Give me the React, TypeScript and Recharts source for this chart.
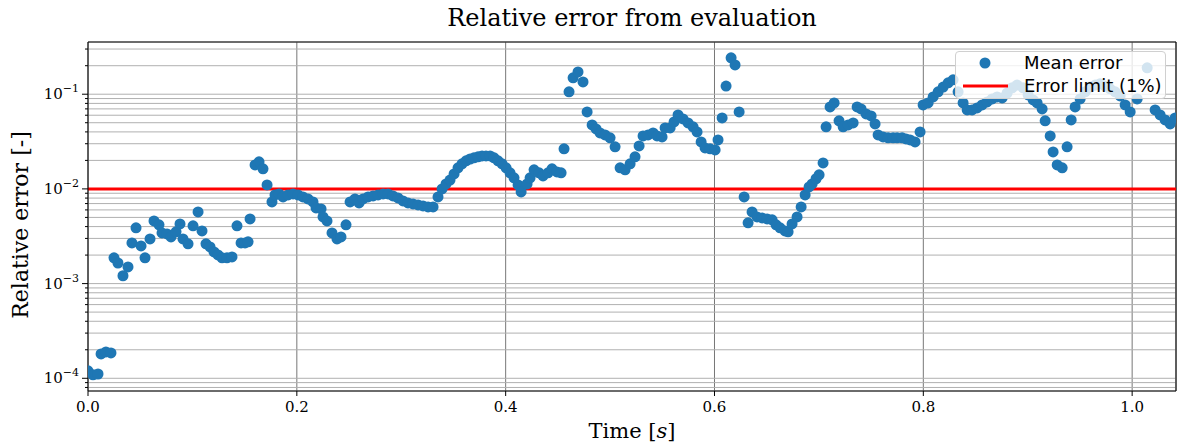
import React from 'react'
import {
  ScatterChart,
  Scatter,
  XAxis,
  YAxis,
  CartesianGrid,
  ReferenceLine,
  Legend,
} from 'recharts'

// time stamps [s] of the evaluation samples
const TIME = [
  0, 0.0048, 0.0096, 0.0125, 0.0172, 0.022, 0.0249, 0.0287, 0.0335, 0.0383,
  0.0421, 0.046, 0.0508, 0.0546, 0.0594, 0.0632, 0.068, 0.0709, 0.0757, 0.0795,
  0.0843, 0.0881, 0.091, 0.0958, 0.1006, 0.1054, 0.1092, 0.113, 0.1169, 0.1207,
  0.1245, 0.1284, 0.1331, 0.1379, 0.1427, 0.1466, 0.1504, 0.1533, 0.1552, 0.16,
  0.1638, 0.1676, 0.1715, 0.1762, 0.1791, 0.183, 0.1868, 0.1916, 0.1964, 0.2011,
  0.2059, 0.2107, 0.2155, 0.2184, 0.2232, 0.2251, 0.2289, 0.2337, 0.2385, 0.2423,
  0.2471, 0.251, 0.2557, 0.2596, 0.2634, 0.2682, 0.273, 0.2778, 0.2826, 0.2874,
  0.2921, 0.2969, 0.3017, 0.3065, 0.3113, 0.3161, 0.3209, 0.3257, 0.3305, 0.3352,
  0.3391, 0.3429, 0.3467, 0.3506, 0.3544, 0.3582, 0.3621, 0.3659, 0.3697, 0.3736,
  0.3774, 0.3812, 0.3851, 0.3889, 0.3927, 0.3966, 0.4004, 0.4042, 0.408, 0.4119,
  0.4148, 0.4205, 0.4234, 0.4272, 0.432, 0.4358, 0.4406, 0.4444, 0.4492, 0.4531,
  0.4559, 0.4607, 0.4646, 0.4693, 0.4741, 0.478, 0.4828, 0.4866, 0.4904, 0.4952,
  0.5, 0.5048, 0.5096, 0.5144, 0.5192, 0.5239, 0.5278, 0.5316, 0.5364, 0.5412,
  0.545, 0.5498, 0.5527, 0.5575, 0.5613, 0.5651, 0.5699, 0.5747, 0.5795, 0.5833,
  0.5872, 0.591, 0.5958, 0.6006, 0.6034, 0.6073, 0.6111, 0.6159, 0.6197, 0.6236,
  0.6284, 0.6322, 0.636, 0.6408, 0.6456, 0.6504, 0.6552, 0.659, 0.6628, 0.6676,
  0.6705, 0.6743, 0.6791, 0.683, 0.6868, 0.6906, 0.6935, 0.6973, 0.7002, 0.704,
  0.7069, 0.7107, 0.7146, 0.7193, 0.7232, 0.728, 0.7328, 0.7366, 0.7404, 0.7452,
  0.75, 0.7538, 0.7567, 0.7615, 0.7663, 0.7711, 0.7749, 0.7797, 0.7835, 0.7874,
  0.7921, 0.7969, 0.7998, 0.8046, 0.8094, 0.8142, 0.819, 0.8238, 0.8285, 0.8333,
  0.8381, 0.842, 0.8467, 0.8515, 0.8563, 0.8611, 0.8659, 0.8707, 0.8755, 0.8803,
  0.8851, 0.8898, 0.8956, 0.9004, 0.9052, 0.909, 0.9138, 0.9167, 0.9215, 0.9243,
  0.9282, 0.933, 0.9377, 0.9416, 0.9454, 0.9502, 0.955, 0.9598, 0.9646, 0.9693,
  0.9741, 0.9789, 0.9837, 0.9885, 0.9933, 0.9981, 1.0048, 1.0144, 1.022, 1.0268,
  1.0316, 1.0364, 1.0412,
]

// mean relative error at each time stamp [-]
const MEAN_ERROR = [
  1.2e-4, 1.09e-4, 1.11e-4, 1.81e-4, 1.9e-4, 1.85e-4, 1.87e-3, 1.65e-3, 1.21e-3, 1.5e-3,
  2.69e-3, 3.88e-3, 2.5e-3, 1.87e-3, 2.96e-3, 4.59e-3, 4.17e-3, 3.43e-3, 3.35e-3, 3.11e-3,
  3.52e-3, 4.27e-3, 2.96e-3, 2.63e-3, 4.07e-3, 5.72e-3, 3.6e-3, 2.63e-3, 2.44e-3, 2.16e-3,
  2.01e-3, 1.87e-3, 1.87e-3, 1.91e-3, 4.07e-3, 2.69e-3, 2.69e-3, 2.76e-3, 4.82e-3, 1.79e-2,
  1.93e-2, 1.63e-2, 1.1e-2, 7.29e-3, 8.64e-3, 8.86e-3, 8.23e-3, 8.64e-3, 8.86e-3, 8.64e-3,
  8.23e-3, 7.84e-3, 7.29e-3, 6.3e-3, 6.15e-3, 5.06e-3, 4.59e-3, 3.43e-3, 2.96e-3, 3.11e-3,
  4.17e-3, 7.29e-3, 7.84e-3, 7.11e-3, 7.84e-3, 8.23e-3, 8.44e-3, 8.64e-3, 8.86e-3, 8.86e-3,
  8.44e-3, 8.04e-3, 7.47e-3, 7.11e-3, 6.94e-3, 6.78e-3, 6.61e-3, 6.45e-3, 6.45e-3, 8.23e-3,
  1.0e-2, 1.13e-2, 1.24e-2, 1.44e-2, 1.67e-2, 1.84e-2, 1.98e-2, 2.07e-2, 2.13e-2, 2.18e-2,
  2.23e-2, 2.23e-2, 2.23e-2, 2.13e-2, 1.98e-2, 1.84e-2, 1.67e-2, 1.48e-2, 1.31e-2, 1.1e-2,
  9.3e-3, 1.13e-2, 1.31e-2, 1.59e-2, 1.48e-2, 1.37e-2, 1.48e-2, 1.63e-2, 1.51e-2, 1.48e-2,
  2.65e-2, 0.106, 0.149, 0.172, 0.135, 0.065, 0.0474, 0.043, 0.039, 0.0372,
  0.0346, 0.0278, 0.0167, 0.0159, 0.0184, 0.0218, 0.0284, 0.0363, 0.0372, 0.039,
  0.0363, 0.0354, 0.0441, 0.0441, 0.051, 0.0605, 0.0549, 0.0498, 0.0452, 0.04,
  0.0313, 0.0271, 0.0265, 0.0258, 0.0329, 0.0562, 0.122, 0.242, 0.204, 0.065,
  8.23e-3, 4.38e-3, 5.72e-3, 5.06e-3, 4.94e-3, 4.82e-3, 4.71e-3, 4.17e-3, 3.88e-3, 3.6e-3,
  3.52e-3, 4.27e-3, 5.06e-3, 6.45e-3, 8.64e-3, 1.05e-2, 1.13e-2, 1.28e-2, 1.41e-2, 1.88e-2,
  0.0452, 0.0734, 0.0809, 0.0523, 0.0452, 0.0474, 0.0498, 0.0734, 0.07, 0.0619,
  0.059, 0.0486, 0.0372, 0.0354, 0.0346, 0.0346, 0.0346, 0.0346, 0.0337, 0.0329,
  0.0313, 0.04, 0.0771, 0.0809, 0.0937, 0.106, 0.119, 0.132, 0.142, 0.106,
  0.0809, 0.0683, 0.0683, 0.0717, 0.0771, 0.0829, 0.0892, 0.0937, 0.0914, 0.103,
  0.117, 0.125, 0.117, 0.0983, 0.0871, 0.0809, 0.07, 0.0523, 0.0363, 0.0246,
  0.0179, 0.0167, 0.0278, 0.0535, 0.0734, 0.0892, 0.106, 0.119, 0.125, 0.129,
  0.122, 0.114, 0.106, 0.0959, 0.0771, 0.065, 0.0892, 0.19, 0.0683, 0.0605,
  0.0535, 0.0486, 0.0562,
]

const ERROR_LIMIT = 0.01
const X_TICKS = [0, 0.2, 0.4, 0.6, 0.8, 1.0]
const Y_MAJOR = [1e-4, 1e-3, 1e-2, 1e-1]
const Y_TICKS = [
  8e-5, 9e-5,
  1e-4, 2e-4, 3e-4, 4e-4, 5e-4, 6e-4, 7e-4, 8e-4, 9e-4,
  1e-3, 2e-3, 3e-3, 4e-3, 5e-3, 6e-3, 7e-3, 8e-3, 9e-3,
  1e-2, 2e-2, 3e-2, 4e-2, 5e-2, 6e-2, 7e-2, 8e-2, 9e-2,
  1e-1, 2e-1, 3e-1,
]
const X_MAX = 1.042
const Y_MIN = 7.34e-5
const Y_MAX = 0.356

const points = TIME.map((t, i) => ({ t, err: MEAN_ERROR[i] }))

const SERIF = '"DejaVu Serif", serif'
const SANS = '"DejaVu Sans", sans-serif'
const BLUE = '#1f77b4'

const YTick = (props: any) => {
  const { x, y, payload } = props
  const v = payload.value
  const major = Y_MAJOR.some(m => Math.abs(m - v) / m < 1e-6)
  if (!major) return <line x1={x - 3} x2={x} y1={y} y2={y} stroke="#000" />
  const exp = Math.round(Math.log10(v))
  return (
    <g>
      <line x1={x - 6} x2={x} y1={y} y2={y} stroke="#000" />
      <text x={x - 9} y={y + 5} textAnchor="end" fontFamily={SERIF} fontSize={15} fill="#000">
        10<tspan dy={-7} fontSize={11}>{'\u2212' + -exp}</tspan>
      </text>
    </g>
  )
}

const XTick = (props: any) => {
  const { x, y, payload } = props
  return (
    <g>
      <line x1={x} x2={x} y1={y} y2={y + 5} stroke="#000" />
      <text x={x} y={y + 21} textAnchor="middle" fontFamily={SERIF} fontSize={15} fill="#000">
        {Number(payload.value).toFixed(1)}
      </text>
    </g>
  )
}

const LegendBox = () => (
  <div
    style={{
      width: 209,
      height: 46,
      border: '1px solid #d0d0d0',
      borderRadius: 4,
      background: 'rgba(255,255,255,0.8)',
      position: 'relative',
      fontFamily: SANS,
      fontSize: 18,
      color: '#000',
    }}
  >
    <svg width={60} height={46} style={{ position: 'absolute', left: 0, top: 0 }}>
      <circle cx={29} cy={11} r={5.5} fill={BLUE} />
      <line x1={7} x2={52} y1={34} y2={34} stroke="#ff0000" strokeWidth={3} />
    </svg>
    <div style={{ position: 'absolute', left: 68, top: 0, lineHeight: '22px' }}>Mean error</div>
    <div style={{ position: 'absolute', left: 68, top: 23, lineHeight: '22px' }}>Error limit (1%)</div>
  </div>
)

export default function App() {
  return (
    <div style={{ position: 'absolute', left: 0, top: 0, width: 1179, height: 448, background: '#fff' }}>
      <div
        style={{
          position: 'absolute',
          left: 88,
          width: 1088,
          top: 3,
          textAlign: 'center',
          fontFamily: SERIF,
          fontSize: 24,
          lineHeight: '30px',
          color: '#000',
        }}
      >
        Relative error from evaluation
      </div>
      <ScatterChart width={1179} height={448} margin={{ top: 42, right: 3, bottom: 0, left: 0 }}>
        <CartesianGrid horizontal={false} stroke="#777" strokeWidth={1} />
        <CartesianGrid vertical={false} stroke="#b0b0b0" strokeWidth={1} />
        <XAxis
          type="number"
          dataKey="t"
          domain={[0, X_MAX]}
          ticks={X_TICKS}
          interval={0}
          allowDataOverflow
          height={57}
          tickSize={0}
          tickMargin={0}
          tickLine={false}
          axisLine={{ stroke: '#000' }}
          tick={<XTick />}
          label={{
            position: 'bottom',
            content: (p: any) => {
              const vb = p.viewBox
              return (
                <text x={vb.x + vb.width / 2} y={438} textAnchor="middle" fontFamily={SERIF} fontSize={21} fill="#000">
                  Time [<tspan fontStyle="italic">s</tspan>]
                </text>
              )
            },
          }}
        />
        <YAxis
          type="number"
          dataKey="err"
          scale="log"
          domain={[Y_MIN, Y_MAX]}
          ticks={Y_TICKS}
          interval={0}
          allowDataOverflow
          width={88}
          tickSize={0}
          tickMargin={0}
          tickLine={false}
          axisLine={{ stroke: '#000' }}
          tick={<YTick />}
          label={{
            position: 'left',
            content: () => (
              <text x={28} y={225} transform="rotate(-90 28 225)" textAnchor="middle" fontFamily={SERIF} fontSize={22} fill="#000">
                Relative error [-]
              </text>
            ),
          }}
        />
        <ReferenceLine y={Y_MAX} stroke="#000" />
        <ReferenceLine x={X_MAX} stroke="#000" />
        <Scatter
          name="Mean error"
          data={points}
          fill={BLUE}
          isAnimationActive={false}
          shape={(p: any) => <circle cx={p.cx} cy={p.cy} r={5.5} fill={BLUE} />}
        />
        <ReferenceLine y={ERROR_LIMIT} stroke="#ff0000" strokeWidth={3} />
        <Legend
          layout="horizontal"
          verticalAlign="middle"
          align="center"
          content={<LegendBox />}
          wrapperStyle={{ position: 'absolute', left: 955, top: 51, width: 211, height: 48 }}
        />
      </ScatterChart>
    </div>
  )
}
